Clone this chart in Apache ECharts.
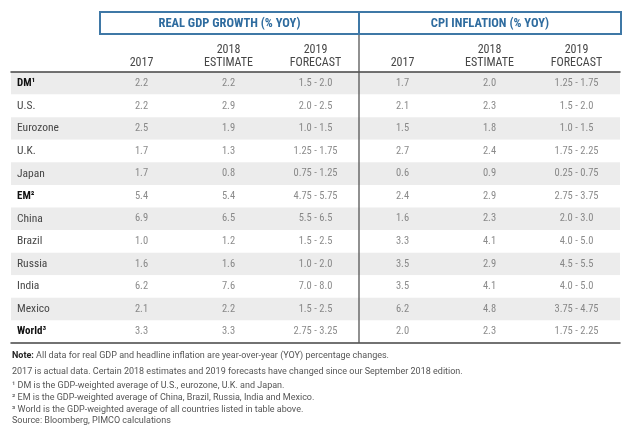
<!DOCTYPE html>
<html><head><meta charset="utf-8">
<script src="https://cdn.jsdelivr.net/npm/echarts@6/dist/echarts.min.js"></script>
<style>html,body{margin:0;padding:0;background:#fff}#c{width:640px;height:439px}</style>
</head><body><div id="c"></div>
<script>
const rows = ['DM','U.S.','Eurozone','U.K.','Japan','EM','China','Brazil','Russia','India','Mexico','World'];
const rowNotes = ['¹','','','','','²','','','','','','³'];
const boldRows = ['DM','EM','World'];
const columns = ['', '2017', '2018\nESTIMATE', '2019\nFORECAST', '2017', '2018\nESTIMATE', '2019\nFORECAST'];
const groups = ['REAL GDP GROWTH (% YOY)', 'CPI INFLATION (% YOY)'];
const groupSpans = [[1,3],[4,6]];
const gdp2017 = ['2.2','2.2','2.5','1.7','1.7','5.4','6.9','1.0','1.6','6.2','2.1','3.3'];
const gdp2018 = ['2.2','2.9','1.9','1.3','0.8','5.4','6.5','1.2','1.6','7.6','2.2','3.3'];
const gdp2019 = ['1.5 - 2.0','2.0 - 2.5','1.0 - 1.5','1.25 - 1.75','0.75 - 1.25','4.75 - 5.75','5.5 - 6.5','1.5 - 2.5','1.0 - 2.0','7.0 - 8.0','1.5 - 2.5','2.75 - 3.25'];
const cpi2017 = ['1.7','2.1','1.5','2.7','0.6','2.4','1.6','3.3','3.5','3.5','6.2','2.0'];
const cpi2018 = ['2.0','2.3','1.8','2.4','0.9','2.9','2.3','4.1','2.9','4.1','4.8','2.3'];
const cpi2019 = ['1.25 - 1.75','1.5 - 2.0','1.0 - 1.5','1.75 - 2.25','0.25 - 0.75','2.75 - 3.75','2.0 - 3.0','4.0 - 5.0','4.5 - 5.5','4.0 - 5.0','3.75 - 4.75','1.75 - 2.25'];
const tableCols = [gdp2017, gdp2018, gdp2019, cpi2017, cpi2018, cpi2019];
const notes = [
  ['Note:', ' All data for real GDP and headline inflation are year-over-year (YOY) percentage changes.'],
  ['', '2017 is actual data. Certain 2018 estimates and 2019 forecasts have changed since our September 2018 edition.'],
  ['', '¹ DM is the GDP-weighted average of U.S., eurozone, U.K. and Japan.'],
  ['', '² EM is the GDP-weighted average of China, Brazil, Russia, India and Mexico.'],
  ['', '³ World is the GDP-weighted average of all countries listed in table above.'],
  ['', 'Source: Bloomberg, PIMCO calculations']
];

const FONT = '"Roboto Condensed","Liberation Sans Narrow","DejaVu Sans Condensed",Roboto,sans-serif';
const NOTE_FONT = 'Roboto,"Open Sans",sans-serif';
const chart = echarts.init(document.getElementById('c'));

const series = tableCols.map((col, ci) => ({
  type: 'scatter',
  xAxisIndex: 0, yAxisIndex: 0,
  symbolSize: 0,
  silent: true,
  data: col.map((v, ri) => [ci + 1, ri, v]),
  label: {
    show: true, position: 'inside',
    formatter: p => p.value[2],
    color: '#6e6e6e', fontSize: 10.5, fontFamily: FONT
  }
}));

chart.setOption({
  animation: false,
  backgroundColor: '#fff',
  grid: { left: 11, right: 20, top: 72, bottom: 96 },
  xAxis: [{
    type: 'category', position: 'top', data: columns,
    axisLine: { lineStyle: { color: '#444', width: 1.5 } },
    axisTick: { show: false },
    axisLabel: { color: '#474747', fontSize: 12, fontFamily: FONT, margin: 3, lineHeight: 13, interval: 0 },
    splitLine: { show: false }
  }, {
    type: 'category', position: 'bottom', data: columns,
    axisLine: { lineStyle: { color: '#444', width: 1.5 } },
    axisTick: { show: false }, axisLabel: { show: false }
  }],
  yAxis: {
    type: 'category', data: rows, inverse: true,
    axisLine: { show: false }, axisTick: { show: false },
    splitArea: { show: true, areaStyle: { color: ['#ececec', '#ffffff'] } },
    axisLabel: {
      inside: true, margin: 6, align: 'left', fontFamily: FONT,
      formatter: (v, i) => boldRows.includes(v) ? '{b|' + v + rowNotes[i] + '}' : '{n|' + v + '}',
      rich: {
        b: { fontWeight: 'bold', color: '#111', fontSize: 11, fontFamily: FONT },
        n: { color: '#474747', fontSize: 11.5, fontFamily: FONT }
      }
    }
  },
  series: series
});

const x0 = chart.convertToPixel({ xAxisIndex: 0 }, 0);
const x1 = chart.convertToPixel({ xAxisIndex: 0 }, 1);
const bw = x1 - x0;
const gridBottom = 439 - 96;
const boxTop = 12, boxH = 22;
const graphics = [];
groupSpans.forEach((s, gi) => {
  const left = chart.convertToPixel({ xAxisIndex: 0 }, s[0]) - bw / 2 + (gi === 0 ? 2 : 0);
  const right = chart.convertToPixel({ xAxisIndex: 0 }, s[1]) + bw / 2 + (gi === 1 ? 1 : 0);
  graphics.push({
    type: 'rect', shape: { x: left, y: boxTop, width: right - left, height: boxH },
    style: { fill: '#fff', stroke: '#3f78a6', lineWidth: 2 }, z: 10
  });
  graphics.push({
    type: 'text', x: (left + right) / 2, y: boxTop + boxH / 2 + 0.5, z: 11,
    style: { text: groups[gi], fill: '#2f6c9f', font: 'bold 12.5px ' + FONT, align: 'center', verticalAlign: 'middle' }
  });
});
const sepX = chart.convertToPixel({ xAxisIndex: 0 }, 4) - bw / 2;
graphics.push({
  type: 'line', shape: { x1: sepX, y1: boxTop + boxH, x2: sepX, y2: gridBottom },
  style: { stroke: '#555', lineWidth: 1.3 }, z: 9
});
const noteY = [356, 372, 386, 398, 410, 421];
notes.forEach((n, i) => {
  graphics.push({
    type: 'text', x: 12, y: noteY[i], z: 11,
    style: {
      text: (n[0] ? '{b|' + n[0] + '}' : '') + '{n|' + n[1] + '}',
      verticalAlign: 'middle',
      rich: {
        b: { fontWeight: 'bold', fill: '#222', fontSize: 9, fontFamily: NOTE_FONT },
        n: { fill: '#555', fontSize: 9, fontFamily: NOTE_FONT }
      }
    }
  });
});
chart.setOption({ graphic: graphics });
</script></body></html>
